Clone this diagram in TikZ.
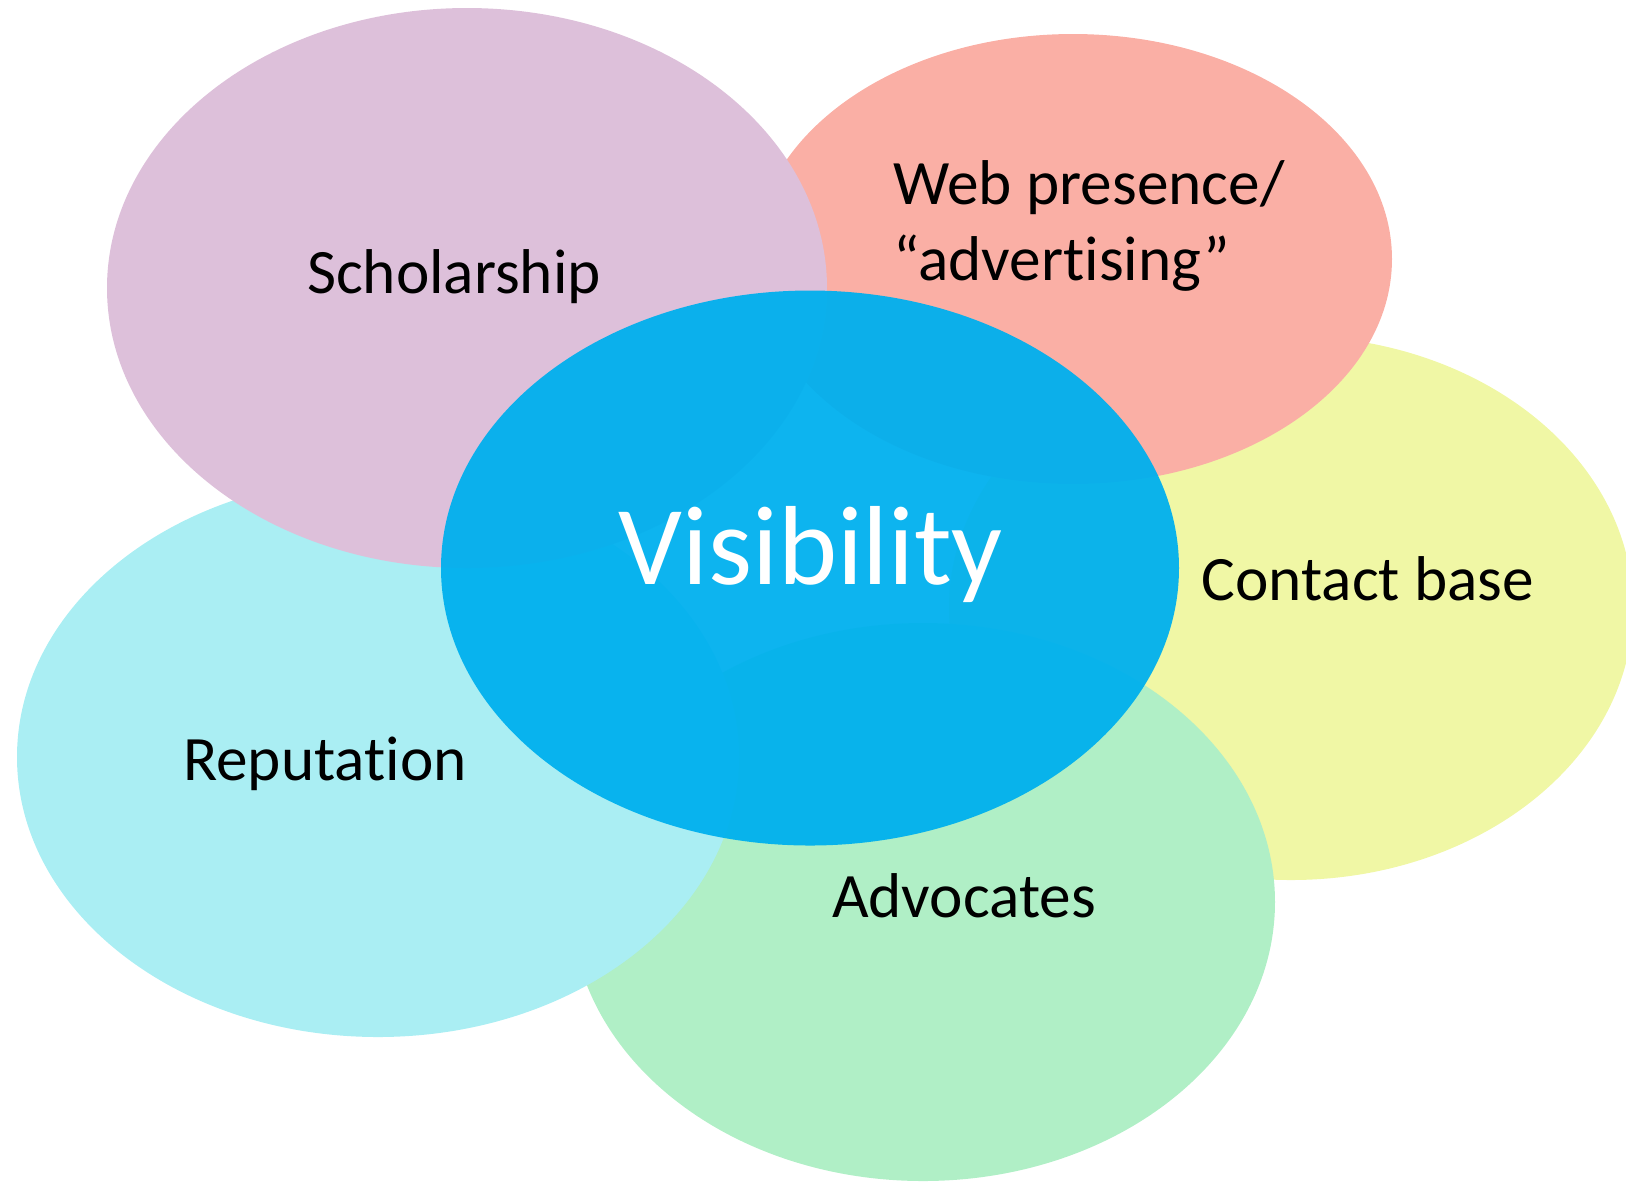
\documentclass[tikz,border=0pt]{standalone}
\usepackage{fontspec}
\setmainfont{Carlito}[RawFeature={-liga;-clig;-calt;-dlig}]
\usetikzlibrary{positioning}
\usetikzlibrary{shapes.geometric}

\definecolor{scholarPink}{RGB}{221,192,218}
\definecolor{webSalmon}{RGB}{250,175,165}
\definecolor{contactYellow}{RGB}{240,247,165}
\definecolor{reputCyan}{RGB}{170,238,243}
\definecolor{advocGreen}{RGB}{176,239,198}
\definecolor{visBlue}{RGB}{0,176,238}

\begin{document}
\begin{tikzpicture}[
    x=0.1mm, y=-0.1mm,
    every node/.style={font=\fontsize{18}{21.6}\selectfont},
    blob/.style={ellipse, inner sep=0pt, draw=none},
    lbl/.style={anchor=base, text=black, align=left}
]
\useasboundingbox (0,0) rectangle (1626,1181);

% Ellipses
\node[blob, fill=contactYellow, minimum width=6.84cm, minimum height=5.44cm] (contact) at (1291,608) {};
\node[blob, fill=webSalmon, minimum width=6.38cm, minimum height=4.50cm] (web) at (1073,259) {};
\node[blob, fill=advocGreen, minimum width=7.04cm, minimum height=5.58cm] (advoc) at (923,902) {};
\node[blob, fill=reputCyan, minimum width=7.22cm, minimum height=5.60cm] (reput) at (378,757) {};
\node[blob, fill=scholarPink, minimum width=7.20cm, minimum height=5.60cm] (scholar) at (467,288) {};
\node[blob, fill=visBlue, fill opacity=0.95, minimum width=7.38cm, minimum height=5.55cm] (vis) at (810,568) {};

% Labels
\node[lbl] (scholarText) at (454,293) {Scholarship};
\node[lbl, anchor=base west] (webText) at (881,280) {Web presence/\\``advertising''};
\node[lbl] (contactText) at (1368,600) {Contact base};
\node[lbl] (reputText) at (325,780) {Reputation};
\node[lbl] (advocText) at (964,917) {Advocates};
\node[lbl, text=white, font=\fontsize{32}{38}\selectfont] (visText) at (811,584) {Visibility};

\end{tikzpicture}
\end{document}
